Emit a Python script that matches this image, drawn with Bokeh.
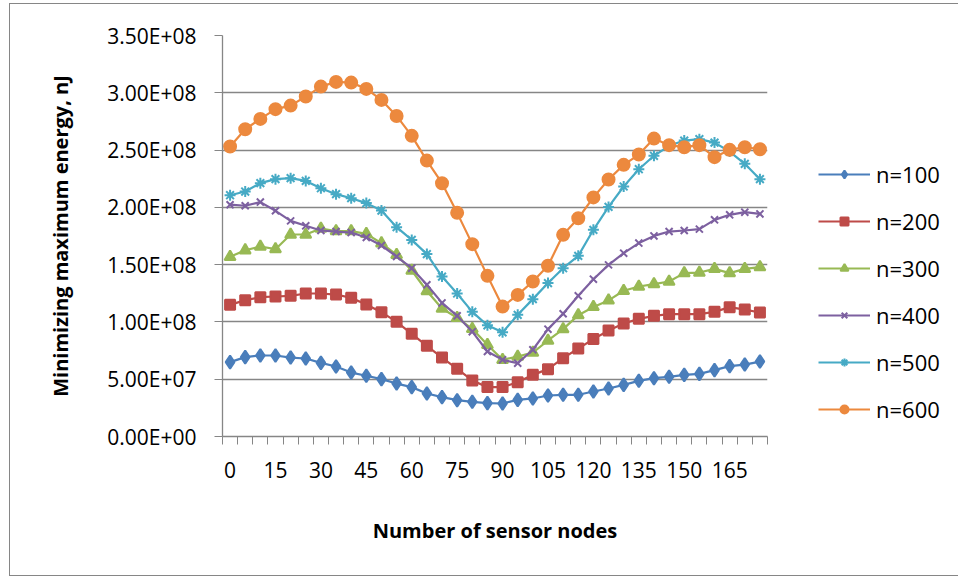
from bokeh.plotting import figure
from bokeh.models import Legend, LegendItem, FixedTicker, Range1d
from bokeh.embed import file_html
from bokeh.resources import INLINE

nodes = [0, 5, 10, 15, 20, 25, 30, 35, 40, 45, 50, 55, 60, 65, 70, 75, 80, 85,
         90, 95, 100, 105, 110, 115, 120, 125, 130, 135, 140, 145, 150, 155, 160, 165, 170, 175]
x_tick_values = [0, 15, 30, 45, 60, 75, 90, 105, 120, 135, 150, 165]
x_tick_labels = ["0", "15", "30", "45", "60", "75", "90", "105", "120", "135", "150", "165"]
y_tick_values = [0, 50000000, 100000000, 150000000, 200000000, 250000000, 300000000, 350000000]
y_tick_labels = ["0.00E+00", "5.00E+07", "1.00E+08", "1.50E+08", "2.00E+08",
                 "2.50E+08", "3.00E+08", "3.50E+08"]

n100 = [6.49e7, 6.93e7, 7.07e7, 7.07e7, 6.89e7, 6.81e7, 6.43e7, 6.11e7, 5.58e7, 5.30e7,
        5.01e7, 4.62e7, 4.31e7, 3.75e7, 3.44e7, 3.17e7, 3.03e7, 2.91e7, 2.88e7, 3.20e7,
        3.32e7, 3.58e7, 3.64e7, 3.64e7, 3.93e7, 4.19e7, 4.51e7, 4.86e7, 5.09e7, 5.21e7,
        5.38e7, 5.47e7, 5.79e7, 6.14e7, 6.28e7, 6.54e7]
n200 = [1.149e8, 1.190e8, 1.216e8, 1.222e8, 1.228e8, 1.248e8, 1.248e8, 1.239e8, 1.210e8, 1.152e8,
        1.085e8, 1.001e8, 0.896e8, 0.791e8, 0.689e8, 0.591e8, 0.489e8, 0.431e8, 0.431e8, 0.474e8,
        0.538e8, 0.588e8, 0.684e8, 0.768e8, 0.850e8, 0.925e8, 0.986e8, 1.027e8, 1.053e8, 1.068e8,
        1.068e8, 1.068e8, 1.088e8, 1.129e8, 1.108e8, 1.082e8]
n300 = [1.568e8, 1.626e8, 1.658e8, 1.635e8, 1.763e8, 1.763e8, 1.815e8, 1.792e8, 1.792e8, 1.769e8,
        1.687e8, 1.585e8, 1.449e8, 1.270e8, 1.117e8, 1.036e8, 0.940e8, 0.800e8, 0.669e8, 0.698e8,
        0.733e8, 0.838e8, 0.937e8, 1.059e8, 1.131e8, 1.188e8, 1.272e8, 1.309e8, 1.330e8, 1.353e8,
        1.426e8, 1.431e8, 1.463e8, 1.426e8, 1.463e8, 1.478e8]
n400 = [2.023e8, 2.014e8, 2.046e8, 1.970e8, 1.882e8, 1.839e8, 1.798e8, 1.789e8, 1.780e8, 1.737e8,
        1.667e8, 1.571e8, 1.469e8, 1.324e8, 1.166e8, 1.053e8, 0.915e8, 0.742e8, 0.669e8, 0.640e8,
        0.757e8, 0.937e8, 1.071e8, 1.228e8, 1.373e8, 1.498e8, 1.600e8, 1.688e8, 1.751e8, 1.789e8,
        1.798e8, 1.810e8, 1.891e8, 1.935e8, 1.958e8, 1.943e8]
n500 = [2.106e8, 2.138e8, 2.211e8, 2.246e8, 2.255e8, 2.231e8, 2.167e8, 2.115e8, 2.080e8, 2.037e8,
        1.972e8, 1.827e8, 1.716e8, 1.592e8, 1.396e8, 1.248e8, 1.088e8, 0.970e8, 0.909e8, 1.062e8,
        1.199e8, 1.339e8, 1.469e8, 1.577e8, 1.804e8, 2.004e8, 2.182e8, 2.333e8, 2.450e8, 2.537e8,
        2.583e8, 2.595e8, 2.565e8, 2.487e8, 2.380e8, 2.246e8]
n600 = [2.531e8, 2.682e8, 2.772e8, 2.857e8, 2.888e8, 2.967e8, 3.054e8, 3.095e8, 3.089e8, 3.034e8,
        2.938e8, 2.798e8, 2.624e8, 2.408e8, 2.211e8, 1.952e8, 1.679e8, 1.402e8, 1.134e8, 1.236e8,
        1.353e8, 1.490e8, 1.760e8, 1.905e8, 2.087e8, 2.243e8, 2.371e8, 2.461e8, 2.600e8, 2.543e8,
        2.525e8, 2.543e8, 2.438e8, 2.502e8, 2.525e8, 2.507e8]

series_names = ["n=100", "n=200", "n=300", "n=400", "n=500", "n=600"]
series_values = [n100, n200, n300, n400, n500, n600]
colors = ["#4A7EBB", "#BE4B48", "#98B954", "#7D60A0", "#46AAC5", "#EC893E"]
markers = ["diamond", "square", "triangle", "x", "asterisk", "circle"]
marker_sizes = [13, 10, 11, 10, 11, 12]

FONT = "Open Sans"
GRAY = "#868686"

p = figure(frame_width=545, frame_height=401, output_backend="svg", toolbar_location=None,
           x_range=Range1d(-2.5, 177.5), y_range=Range1d(0, 3.5e8),
           min_border_left=212, min_border_right=189, min_border_top=31, min_border_bottom=139)
p.styles = {"border": "1px solid #868686", "margin-left": "9px", "margin-top": "3px"}
p.outline_line_color = None
p.background_fill_color = "white"
p.border_fill_color = "white"

p.xgrid.visible = False
p.ygrid.grid_line_color = GRAY
p.ygrid.grid_line_width = 1.3

half = (nodes[1] - nodes[0]) / 2
boundaries = [c - half for c in nodes] + [nodes[-1] + half]
p.xaxis.ticker = FixedTicker(ticks=x_tick_values, minor_ticks=boundaries)
p.xaxis.major_label_overrides = {v: s for v, s in zip(x_tick_values, x_tick_labels)}
p.xaxis.major_tick_out = 0
p.xaxis.major_tick_in = 0
p.xaxis.minor_tick_out = 8
p.xaxis.minor_tick_in = 0
p.xaxis.minor_tick_line_color = GRAY
p.xaxis.axis_label = "Number of sensor nodes"
p.xaxis.major_label_standoff = 17
p.xaxis.axis_label_standoff = 36

p.yaxis.ticker = FixedTicker(ticks=y_tick_values)
p.yaxis.major_label_overrides = {v: s for v, s in zip(y_tick_values, y_tick_labels)}
p.yaxis.major_tick_out = 8
p.yaxis.major_tick_in = 0
p.yaxis.minor_tick_out = 0
p.yaxis.minor_tick_in = 0
p.yaxis.axis_label = "Minimizing maximum energy, nJ"
p.yaxis.major_label_standoff = 18
p.yaxis.axis_label_standoff = 30

for ax in (p.xaxis, p.yaxis):
    ax.axis_line_color = GRAY
    ax.axis_line_width = 1.3
    ax.major_tick_line_color = GRAY
    ax.major_label_text_font = FONT
    ax.major_label_text_font_size = "21px"
    ax.major_label_text_color = "black"
    ax.axis_label_text_font = FONT
    ax.axis_label_text_font_size = "20px"
    ax.axis_label_text_font_style = "bold"
    ax.axis_label_text_color = "black"

items = []
for name, vals, col, mk, sz in zip(series_names, series_values, colors, markers, marker_sizes):
    r1 = p.line(nodes, vals, line_color=col, line_width=2.2)
    r2 = p.scatter(nodes, vals, marker=mk, size=sz, fill_color=col, line_color=col, line_width=2)
    items.append(LegendItem(label=name, renderers=[r1, r2]))

legend = Legend(items=items, location="top_left", margin=51, padding=0, spacing=17,
                title=" ", title_text_font_size="10px", title_standoff=62,
                glyph_width=52, glyph_height=20, label_height=20, label_standoff=6,
                border_line_color=None, background_fill_alpha=0,
                label_text_font=FONT, label_text_font_size="22px", label_text_color="black")
p.add_layout(legend, "right")

open("out.html", "w").write(file_html(p, INLINE))
